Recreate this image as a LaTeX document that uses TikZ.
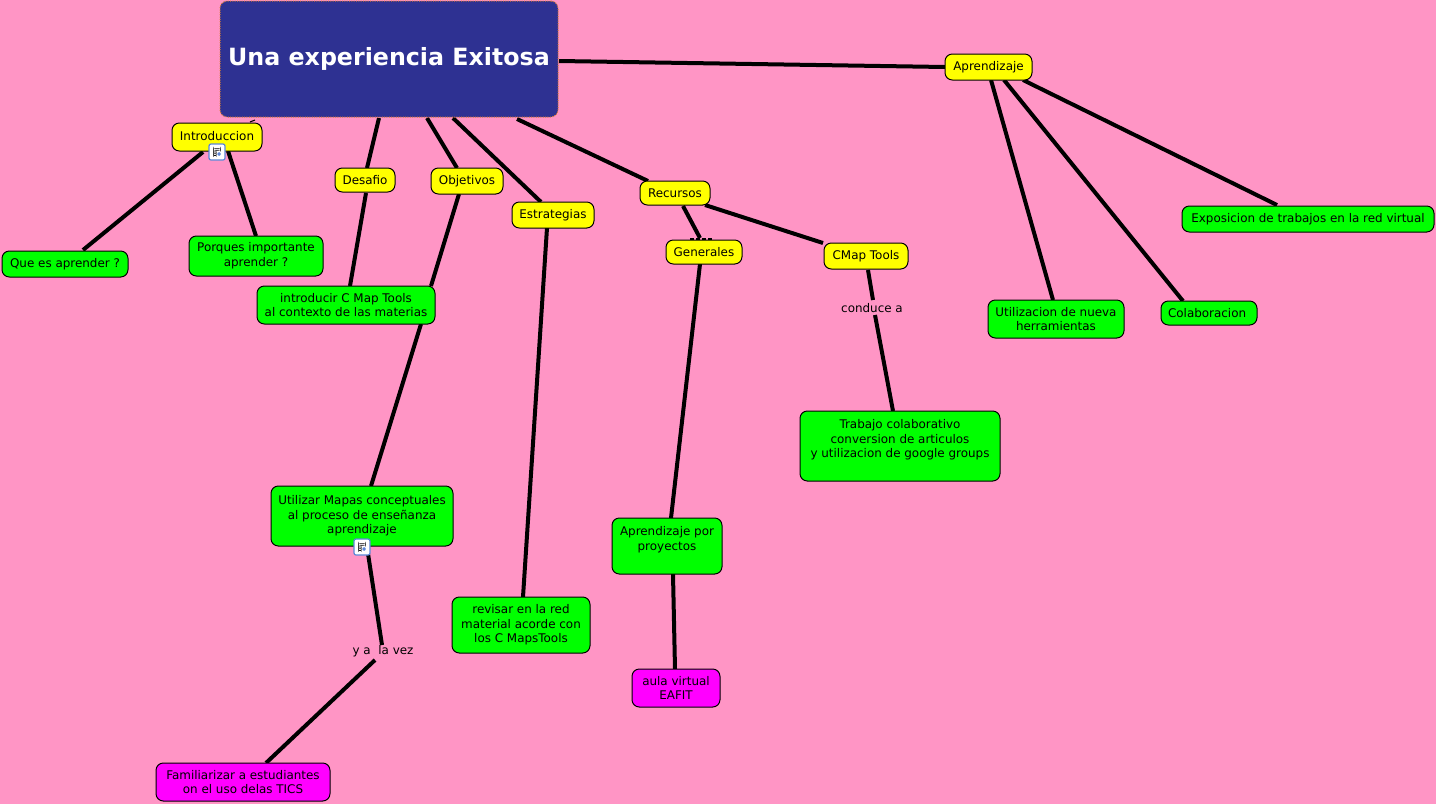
\documentclass[tikz,border=0pt]{standalone}
\usepackage{fontspec}
\setmainfont{DejaVu Sans}
\usetikzlibrary{calc,backgrounds}
\definecolor{bgpink}{HTML}{FF95C5}
\definecolor{titleblue}{HTML}{2E3192}
\definecolor{titleedge}{HTML}{E08030}
\definecolor{iconblue}{HTML}{5C86D8}
\definecolor{puremagenta}{HTML}{FF00FF}
\definecolor{puregreen}{HTML}{00FF00}
\definecolor{pureyellow}{HTML}{FFFF00}
\newcommand{\lnk}[6]{\draw[linkline] ($(#1)+(#2,#3)$) -- ($(#4)+(#5,#6)$);}
\tikzset{
  boxbase/.style={draw=black,line width=0.75pt,rounded corners=5.5pt,inner sep=0pt,align=center,font=\fontsize{8.95}{11}\selectfont,text=black},
  yellowbox/.style={boxbase,fill=pureyellow},
  greenbox/.style={boxbase,fill=puregreen},
  magentabox/.style={boxbase,fill=puremagenta},
  wh/.style n args={2}{minimum width=#1*0.75pt,minimum height=#2*0.75pt},
  linktext/.style={inner sep=0pt,font=\fontsize{8.95}{11}\selectfont,text=black},
  linkline/.style={draw=black,line width=3pt},
  tickline/.style={draw=black,line width=0.8pt},
  docicon/.style={draw=iconblue,fill=white,line width=0.9pt,rounded corners=1.5pt,minimum size=12pt,inner sep=0pt,
    path picture={
      \fill[black] ($(path picture bounding box.center)+(-3.6,-4)$) rectangle ++(7.2,0.7);
      \fill[black] ($(path picture bounding box.center)+(-3.6,-2.2)$) rectangle ++(7.2,0.7);
      \fill[black] ($(path picture bounding box.center)+(-3.6,-0.4)$) rectangle ++(3,0.7);
      \fill[black] ($(path picture bounding box.center)+(-3.6,1.4)$) rectangle ++(3,0.7);
      \fill[black] ($(path picture bounding box.center)+(-3.6,3.2)$) rectangle ++(3,0.7);
      \fill[iconblue] ($(path picture bounding box.center)+(0.3,0.2)$) rectangle ++(3.5,3.6);
    }},
}
\begin{document}
\begin{tikzpicture}[x=0.75pt,y=-0.75pt]
\useasboundingbox (0,0) rectangle (1436,804);

\node[boxbase,fill=titleblue,draw=titleedge,densely dotted,wh={338}{116},text=white,font=\fontsize{17.8}{22}\bfseries\selectfont] (title) at (389,59) {\raisebox{1pt}{Una experiencia Exitosa}};
\node[yellowbox,wh={87}{26}] (apr) at (988.5,67) {\raisebox{1pt}{Aprendizaje}};
\node[yellowbox,wh={90}{28}] (intro) at (217,137) {\raisebox{1.5pt}{Introduccion}};
\node[yellowbox,wh={60}{24}] (des) at (365,180) {Desafio};
\node[yellowbox,wh={72}{26}] (obj) at (467,181) {Objetivos};
\node[yellowbox,wh={82}{26}] (est) at (553,215) {Estrategias};
\node[yellowbox,wh={70}{24}] (rec) at (675,193) {Recursos};
\node[yellowbox,wh={76}{24}] (gen) at (704,252) {Generales};
\node[yellowbox,wh={84}{26}] (cmap) at (866,256) {CMap Tools};
\node[greenbox,wh={252}{26}] (expo) at (1308,219) {Exposicion de trabajos en la red virtual};
\node[greenbox,wh={136}{38}] (uti) at (1056,319) {Utilizacion de nueva\\herramientas};
\node[greenbox,wh={96}{24}] (col) at (1209,313) {Colaboracion\ };
\node[greenbox,wh={126}{26}] (que) at (65,264) {Que es aprender ?};
\node[greenbox,wh={134}{40}] (por) at (256,256) {Porques importante\\aprender ?};
\node[greenbox,wh={178}{38}] (int) at (346,305) {introducir C Map Tools\\al contexto de las materias};
\node[greenbox,wh={182}{60}] (utl) at (362,516) {Utilizar Mapas conceptuales\\al proceso de enseñanza\\aprendizaje};
\node[greenbox,wh={138}{56}] (rev) at (521,625) {revisar en la red\\material acorde con\\los C MapsTools};
\node[greenbox,wh={110}{56}] (apb) at (667,546) {Aprendizaje por\\proyectos\\\mbox{}};
\node[greenbox,wh={200}{70}] (tra) at (900,446) {Trabajo colaborativo\\conversion de articulos\\y utilizacion de google groups\\\mbox{}};
\node[magentabox,wh={88}{38}] (aula) at (676,688) {aula virtual\ \\EAFIT};
\node[magentabox,wh={174}{38}] (fam) at (243,782) {Familiarizar a estudiantes\ \\on el uso delas TICS};
\node[linktext] (cond) at (872,308) {conduce a};
\node[linktext] (yala) at (383,651) {y a\ \ la vez};
\node[docicon] (icona) at (217,152) {};
\node[docicon] (iconb) at (362,547) {};

\begin{scope}[on background layer]
\fill[bgpink] (0,0) rectangle (1436,804);
\lnk{title}{170}{2}{apr}{-43.5}{0}
\draw[tickline] ($(intro)+(38,-17)$) -- ($(intro)+(33,-15)$);
\draw[line width=1.5pt,draw=black,dash pattern=on 3pt off 1.5pt] ($(gen)+(-14,-13.5)$) -- ($(gen)+(9,-13.5)$);
\lnk{intro}{-14}{15}{que}{18}{-14}
\lnk{intro}{11}{14}{por}{0}{-20}
\lnk{title}{-10}{59}{des}{2}{-12}
\lnk{des}{1}{13}{int}{4}{-19}
\lnk{title}{38}{59}{obj}{-10}{-13}
\lnk{obj}{-8}{13}{int}{85}{-19}
\lnk{int}{75}{19}{utl}{9}{-30}
\lnk{title}{64}{59}{est}{-12}{-13}
\lnk{est}{-6}{13}{rev}{2}{-28}
\lnk{title}{128}{60}{rec}{-27}{-12}
\lnk{rec}{8}{13}{gen}{-4}{-14}
\lnk{rec}{30}{12}{cmap}{-43}{-13}
\lnk{gen}{-4}{12}{apb}{4}{-28}
\lnk{apb}{6}{28}{aula}{-1}{-19}
\lnk{cmap}{2}{14}{cond}{1}{-8}
\lnk{cond}{3}{7}{tra}{-7}{-35}
\lnk{utl}{5}{31}{yala}{-1}{-6}
\lnk{yala}{-8}{9}{fam}{23}{-19}
\lnk{apr}{34.5}{13}{expo}{-31}{-14}
\lnk{apr}{15.5}{13}{col}{-26}{-12}
\lnk{apr}{2.5}{13}{uti}{-3}{-19}
\end{scope}
\end{tikzpicture}
\end{document}
